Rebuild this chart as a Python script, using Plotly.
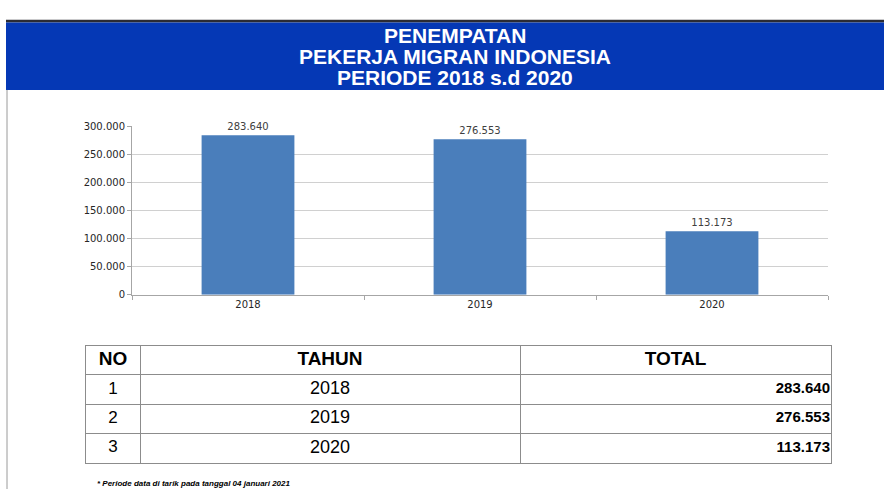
"""Penempatan Pekerja Migran Indonesia 2018-2020: bar chart + summary table."""

import plotly.graph_objects as go

YEARS = ["2018", "2019", "2020"]
TOTALS = [283640, 276553, 113173]
ROW_NO = ["1", "2", "3"]
HEADERS = ["NO", "TAHUN", "TOTAL"]
TITLE_LINES = ["PENEMPATAN", "PEKERJA MIGRAN INDONESIA", "PERIODE 2018 s.d 2020"]
FOOTNOTE = "* Periode data di tarik pada tanggal 04 januari 2021"

W, H = 884, 495
BAR_COLOR = "#4a7ebb"
BANNER_BLUE = "#0538b5"
TABLE_LINE = "#8c8c8c"
TABLE_FONT = "Liberation Sans, Arial"

# table column boundaries, in table-axis units (px from table's left edge)
COL_EDGES = [0, 54, 434, 745]
ROW_KEYS = ["hdr"] + ROW_NO


def px_x(x):
    return x / W


def px_y(y):
    return 1 - y / H


def dotted(v):
    return f"{v:,}".replace(",", ".")


fig = go.Figure()

fig.add_trace(
    go.Bar(
        x=YEARS,
        y=TOTALS,
        marker=dict(color=BAR_COLOR, line=dict(width=0)),
        texttemplate="%{y:,d}",
        textposition="outside",
        textfont=dict(family="DejaVu Sans", size=10, color="#404040"),
        cliponaxis=False,
        showlegend=False,
        hoverinfo="x+y",
    )
)

# --- table drawn on its own axes: rows are categories, columns numeric ---
col_mid = [(a + b) / 2 for a, b in zip(COL_EDGES[:-1], COL_EDGES[1:])]
common_text = dict(mode="text", xaxis="x2", yaxis="y2", showlegend=False, hoverinfo="skip",
                   cliponaxis=False)
fig.add_trace(
    go.Scatter(
        x=col_mid,
        y=["hdr"] * 3,
        text=[f"<b>{h}</b>" for h in HEADERS],
        textposition="middle center",
        textfont=dict(family=TABLE_FONT, size=19, color="black"),
        **common_text,
    )
)
fig.add_trace(
    go.Scatter(
        x=[col_mid[0]] * len(ROW_NO),
        y=ROW_NO,
        text=ROW_NO,
        textposition="middle center",
        textfont=dict(family=TABLE_FONT, size=17, color="black"),
        **common_text,
    )
)
fig.add_trace(
    go.Scatter(
        x=[col_mid[1]] * len(YEARS),
        y=ROW_NO,
        text=YEARS,
        textposition="middle center",
        textfont=dict(family=TABLE_FONT, size=18, color="black"),
        **common_text,
    )
)
fig.add_trace(
    go.Scatter(
        x=[COL_EDGES[-1] - 1] * len(TOTALS),
        y=ROW_NO,
        text=[f"<b>{dotted(v)}</b>" for v in TOTALS],
        textposition="middle left",
        textfont=dict(family=TABLE_FONT, size=15, color="black"),
        **common_text,
    )
)

# banner
fig.add_shape(type="rect", xref="paper", yref="paper",
              x0=px_x(6), x1=1.0, y0=px_y(17), y1=px_y(14),
              fillcolor="#2b2b33", line=dict(width=0), layer="below")
fig.add_shape(type="rect", xref="paper", yref="paper",
              x0=px_x(6), x1=1.0, y0=px_y(86), y1=px_y(17),
              fillcolor=BANNER_BLUE, line=dict(width=0), layer="below")
fig.add_shape(type="line", xref="paper", yref="paper",
              x0=px_x(7), x1=px_x(7), y0=0, y1=px_y(86),
              line=dict(color="#9a9a9a", width=1))

for line, ypix in zip(TITLE_LINES, [30, 52, 73]):
    fig.add_annotation(
        text=f"<b>{line}</b>", xref="paper", yref="paper",
        x=px_x(455), y=px_y(ypix), showarrow=False,
        xanchor="center", yanchor="middle",
        font=dict(family="Liberation Sans, Arial", size=21, color="white"),
    )

fig.add_annotation(
    text=f"<b><i>{FOOTNOTE}</i></b>", xref="paper", yref="paper",
    x=px_x(95), y=px_y(489), showarrow=False, xanchor="left", yanchor="middle",
    font=dict(family="Liberation Sans, Arial", size=8, color="black"),
)

fig.update_layout(
    width=W,
    height=H,
    margin=dict(l=0, r=0, t=0, b=0),
    paper_bgcolor="white",
    plot_bgcolor="white",
    separators=",.",
    bargap=0.6,
    xaxis=dict(
        domain=[px_x(132), px_x(828)],
        anchor="y",
        showline=True,
        linecolor="#a6a6a6",
        ticks="outside",
        tickson="boundaries",
        ticklen=4,
        tickcolor="#a6a6a6",
        tickfont=dict(family="DejaVu Sans", size=10, color="#262626"),
        showgrid=False,
        fixedrange=True,
    ),
    yaxis=dict(
        domain=[px_y(296), px_y(123)],
        anchor="x",
        range=[0, 300000],
        dtick=50000,
        tickformat=",d",
        showline=True,
        linecolor="#a6a6a6",
        ticks="outside",
        ticklen=4,
        tickcolor="#a6a6a6",
        gridcolor="#d0d0d0",
        tickfont=dict(family="DejaVu Sans", size=10, color="#262626"),
        zeroline=False,
        fixedrange=True,
    ),
    xaxis2=dict(
        domain=[px_x(86), px_x(831)],
        anchor="y2",
        range=[COL_EDGES[0], COL_EDGES[-1]],
        tickvals=COL_EDGES,
        showticklabels=False,
        showgrid=True,
        gridcolor=TABLE_LINE,
        gridwidth=1,
        showline=True,
        mirror=True,
        linecolor=TABLE_LINE,
        zeroline=False,
        fixedrange=True,
    ),
    yaxis2=dict(
        domain=[px_y(468), px_y(348)],
        anchor="x2",
        type="category",
        categoryorder="array",
        categoryarray=ROW_KEYS,
        range=[len(ROW_KEYS) - 0.5, -0.5],
        tickson="boundaries",
        showticklabels=False,
        showgrid=True,
        gridcolor=TABLE_LINE,
        gridwidth=1,
        showline=True,
        mirror=True,
        linecolor=TABLE_LINE,
        zeroline=False,
        fixedrange=True,
    ),
)

fig.write_html(
    "out.html",
    config=dict(displayModeBar=False),
    post_script="document.body.style.margin='0';document.body.style.overflow='hidden';",
)
